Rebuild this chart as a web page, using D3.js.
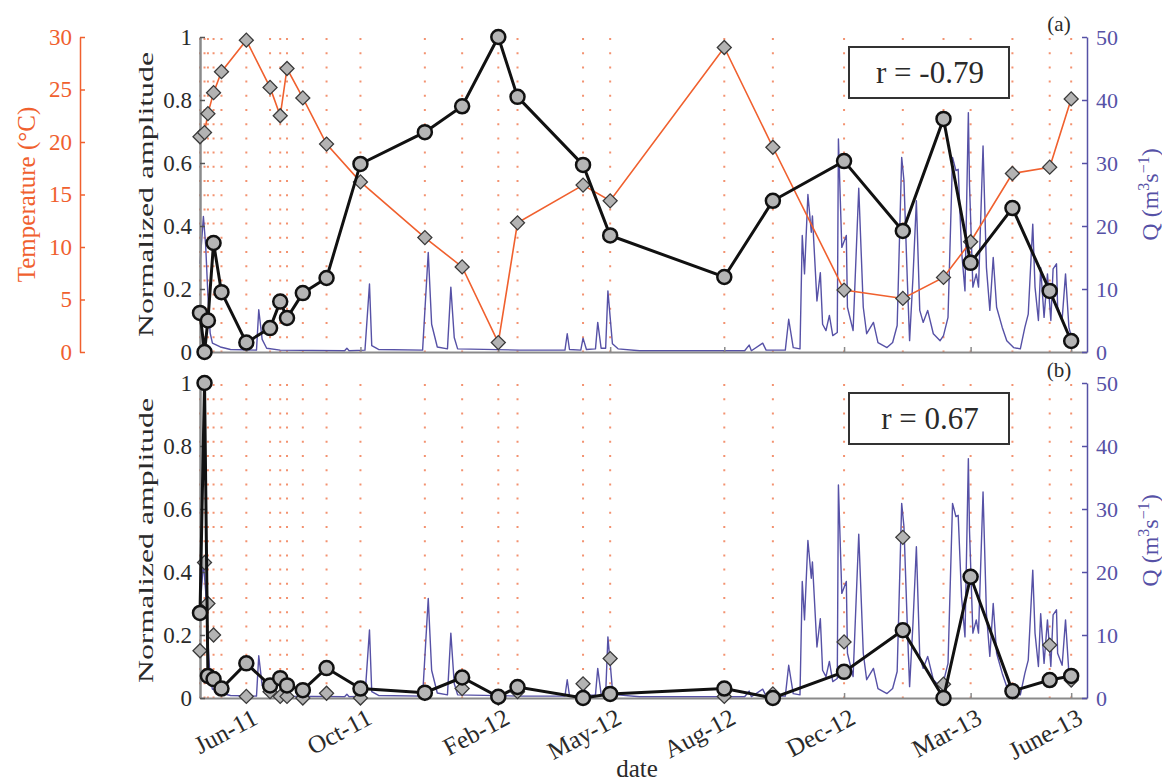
<!DOCTYPE html>
<html>
<head>
<meta charset="utf-8">
<script src="https://cdn.jsdelivr.net/npm/d3@7"></script>
<style>
  body { margin: 0; background: #fff; }
  text { font-family: "Liberation Serif", "Times New Roman", serif; }
</style>
</head>
<body>
<div id="chart"></div>
<script>
// Sampling campaigns (shared by both panels)
var sampleDates = ["2011-05-15", "2011-05-19", "2011-05-22", "2011-05-27", "2011-06-03",
  "2011-06-25", "2011-07-16", "2011-07-25", "2011-07-31", "2011-08-14", "2011-09-04",
  "2011-10-04", "2011-11-30", "2012-01-02", "2012-02-03", "2012-02-20", "2012-04-18",
  "2012-05-12", "2012-08-21", "2012-10-03", "2012-12-05", "2013-01-26", "2013-03-03",
  "2013-03-27", "2013-05-03", "2013-06-05", "2013-06-24"];

// panel (a): water temperature and normalized amplitude
var tempC = [20.5, 20.9, 22.7, 24.7, 26.7, 29.7, 25.2, 22.5, 27.0, 24.2, 19.8, 16.2, 10.9,
  8.1, 0.9, 12.3, 15.9, 14.4, 29.0, 19.5, 5.9, 5.1, 7.1, 10.5, 17.0, 17.6, 24.1];
var ampA = [0.124, 0.0, 0.10, 0.346, 0.19, 0.03, 0.076, 0.16, 0.108, 0.187, 0.235, 0.597,
  0.698, 0.78, 1.0, 0.81, 0.594, 0.37, 0.238, 0.48, 0.606, 0.384, 0.74, 0.283, 0.457, 0.194, 0.035];

// panel (b): normalized amplitude (circles) and second index (diamonds)
var ampB = [0.27, 1.0, 0.07, 0.06, 0.03, 0.11, 0.04, 0.063, 0.04, 0.025, 0.095, 0.03, 0.017,
  0.065, 0.004, 0.035, 0.0, 0.013, 0.03, 0.0, 0.083, 0.215, 0.0, 0.385, 0.022, 0.057, 0.07];
var diamondB = [0.15, 0.43, 0.30, 0.2, 0.03, 0.005, 0.02, 0.005, 0.005, 0.0, 0.015, 0.0, 0.015,
  0.03, 0.0, 0.02, 0.045, 0.125, 0.005, 0.013, 0.178, 0.51, 0.044, 0.385, 0.02, 0.168, 0.057];

// discharge record, days counted from qStart
var qStart = "2011-05-15";
var qDay = [0, 3, 5, 7, 9, 11, 18, 27, 50, 52, 55, 59, 71, 128, 130, 132, 146, 150, 152, 158,
  197, 202, 205, 210, 219, 222, 225, 228, 283, 323, 325, 327, 337, 339, 342, 350, 352, 355,
  359, 361, 365, 370, 389, 482, 486, 488, 498, 501, 518, 521, 525, 531, 533, 535, 538, 541,
  542, 546, 549, 551, 554, 557, 560, 564, 565, 568, 572, 573, 578, 583, 587, 590, 596, 600,
  608, 613, 617, 621, 623, 626, 628, 631, 634, 637, 640, 644, 649, 655, 658, 662, 666, 669,
  671, 674, 677, 680, 681, 684, 687, 689, 693, 696, 699, 702, 705, 710, 714, 720, 726, 730,
  733, 737, 739, 742, 744, 747, 750, 753, 755, 758, 759, 763, 766, 769, 772];
var qValue = [14, 21.5, 17, 9, 3, 1.4, 0.8, 0.4, 0.3, 6.7, 2, 0.6, 0.3, 0.2, 0.6, 0.2, 0.3, 10.8,
  1.0, 0.4, 0.3, 15.8, 4.4, 0.8, 0.5, 10.3, 2.3, 0.5, 0.3, 0.3, 2.9, 0.4, 0.3, 2.2, 0.4, 0.5,
  4.7, 0.6, 0.6, 9.7, 1.3, 0.5, 0.2, 0.2, 1.1, 0.2, 1.4, 0.3, 0.3, 5.2, 0.7, 0.5, 18.5, 12.4,
  25, 19, 21.6, 8.1, 12.6, 4.4, 3.4, 5.8, 2.6, 3.1, 33.8, 16.6, 18.5, 7.1, 3.4, 26, 7.1, 2.9,
  4.7, 1.5, 0.7, 1.5, 4.2, 30.9, 27.2, 11.3, 1.8, 11.9, 24, 6.6, 4.7, 6.6, 2.9, 1.8, 2.6, 5.5,
  30.9, 28.8, 29, 16, 9.7, 38, 26.7, 10.3, 12.4, 10.3, 32.7, 13.4, 6.6, 15, 7.1, 3.9, 1.8, 0.7,
  0.5, 3.9, 6, 20.3, 10.3, 5, 13.4, 5.5, 12.4, 5, 13.2, 14, 7.1, 5.2, 12.4, 3.9, 1.8];

var tickDates = ["2011-06-25", "2011-10-04", "2012-02-03", "2012-05-12", "2012-08-21",
  "2012-12-05", "2013-03-27", "2013-06-24"];
var tickLabels = ["Jun-11", "Oct-11", "Feb-12", "May-12", "Aug-12", "Dec-12", "Mar-13", "June-13"];
var rLabels = ["r = -0.79", "r = 0.67"];
var panelTags = ["(a)", "(b)"];

var svgWidth = 1162;
var svgHeight = 782;

var orange = "#f0602e";
var dotColor = "#f39270";
var blue = "#5651a6";
var axisGray = "#8a8a8a";
var textDark = "#2a2a2a";
var serif = "Liberation Serif";

var parseDate = d3.timeParse("%Y-%m-%d");
var dates = sampleDates.map(parseDate);
var q0 = parseDate(qStart);
var qData = qDay.map(function(d, i) { return { date: d3.timeDay.offset(q0, d), q: qValue[i] }; });

var svg = d3.select("#chart")
  .append("svg")
  .attr("width", svgWidth)
  .attr("height", svgHeight);

var xScale = d3.scaleTime()
  .domain([parseDate("2011-05-15"), parseDate("2013-07-08")])
  .range([200, 1087]);

var panels = [
  { top: 37, bottom: 352, amp: ampA, diamonds: tempC },
  { top: 383, bottom: 698, amp: ampB, diamonds: diamondB }
];

var diamond = d3.symbol().type(d3.symbolSquare).size(98);

panels.forEach(function(p, i) {
  var g = svg.append("g");
  var yAmp = d3.scaleLinear().domain([0, 1]).range([p.bottom, p.top]);
  var yQ = d3.scaleLinear().domain([0, 50]).range([p.bottom, p.top]);
  var yT = d3.scaleLinear().domain([0, 30]).range([p.bottom, p.top]);

  // dotted lines at each sampling date
  g.selectAll(".vgrid")
    .data(dates)
    .enter()
    .append("line")
    .attr("x1", d => xScale(d))
    .attr("x2", d => xScale(d))
    .attr("y1", p.top + 1)
    .attr("y2", p.bottom)
    .attr("stroke", dotColor)
    .attr("stroke-width", 2)
    .attr("stroke-dasharray", "2,12.2");

  // discharge
  var qLine = d3.line()
    .x(d => xScale(d.date))
    .y(d => yQ(d.q));
  g.append("path")
    .datum(qData)
    .attr("d", qLine)
    .attr("fill", "none")
    .attr("stroke", blue)
    .attr("stroke-width", 1.4)
    .attr("stroke-linejoin", "round");

  // axes
  var xAxis = d3.axisBottom(xScale)
    .tickValues(tickDates.map(parseDate))
    .tickFormat("")
    .tickSizeInner(-5)
    .tickSizeOuter(0);
  var xg = g.append("g")
    .attr("transform", `translate(0, ${p.bottom})`)
    .call(xAxis);
  xg.select(".domain").attr("stroke", axisGray).attr("stroke-width", 2);
  xg.selectAll(".tick line").attr("stroke", axisGray).attr("stroke-width", 1.5);

  var leftAxis = d3.axisLeft(yAmp)
    .tickValues([0, 0.2, 0.4, 0.6, 0.8, 1])
    .tickFormat(d => (d === 0 || d === 1) ? d : d3.format(".1f")(d))
    .tickSizeInner(-5)
    .tickSizeOuter(0)
    .tickPadding(8);
  var lg = g.append("g")
    .attr("transform", "translate(200, 0)")
    .call(leftAxis);
  lg.select(".domain").attr("stroke", axisGray).attr("stroke-width", 2.5);
  lg.selectAll(".tick line").attr("stroke", "#555").attr("stroke-width", 1.5);
  lg.selectAll(".tick text").attr("fill", textDark).style("font-size", "23px")
    .style("font-family", serif);

  var rightAxis = d3.axisRight(yQ)
    .tickValues([0, 10, 20, 30, 40, 50])
    .tickSizeInner(-5)
    .tickSizeOuter(0)
    .tickPadding(9);
  var rg = g.append("g")
    .attr("transform", "translate(1087, 0)")
    .call(rightAxis);
  rg.select(".domain").attr("stroke", blue).attr("stroke-width", 1.5);
  rg.selectAll(".tick line").attr("stroke", blue).attr("stroke-width", 1.5);
  rg.selectAll(".tick text").attr("fill", blue).style("font-size", "22px")
    .style("font-family", serif);

  g.append("text")
    .attr("transform", `translate(153, ${(p.top + p.bottom) / 2}) rotate(-90)`)
    .attr("text-anchor", "middle")
    .attr("fill", textDark)
    .attr("textLength", 285)
    .attr("lengthAdjust", "spacingAndGlyphs")
    .style("font-size", "22px")
    .text("Normalized amplitude");

  var qLabel = g.append("text")
    .attr("transform", `translate(1158, ${(p.top + p.bottom) / 2}) rotate(-90)`)
    .attr("text-anchor", "middle")
    .attr("fill", blue)
    .style("font-size", "24px");
  qLabel.append("tspan").text("Q (m");
  qLabel.append("tspan").attr("dy", -9).style("font-size", "16px").text("3");
  qLabel.append("tspan").attr("dy", 9).text("s");
  qLabel.append("tspan").attr("dy", -9).style("font-size", "16px").text("\u22121");
  qLabel.append("tspan").attr("dy", 9).text(")");

  if (i === 0) {
    // temperature axis, far left
    var tAxis = d3.axisLeft(yT)
      .tickValues([0, 5, 10, 15, 20, 25, 30])
      .tickSizeInner(-5)
      .tickSizeOuter(0)
      .tickPadding(8);
    var tg = g.append("g")
      .attr("transform", "translate(80, 0)")
      .call(tAxis);
    tg.select(".domain").attr("stroke", orange).attr("stroke-width", 1.5);
    tg.selectAll(".tick line").attr("stroke", orange).attr("stroke-width", 1.5);
    tg.selectAll(".tick text").attr("fill", orange).style("font-size", "23px")
      .style("font-family", serif);

    g.append("text")
      .attr("transform", `translate(35, ${(p.top + p.bottom) / 2}) rotate(-90)`)
      .attr("text-anchor", "middle")
      .attr("fill", orange)
      .style("font-size", "25px")
      .text("Temperature (\u00B0C)");

    var tLine = d3.line()
      .x((d, j) => xScale(dates[j]))
      .y(d => yT(d));
    g.append("path")
      .datum(tempC)
      .attr("d", tLine)
      .attr("fill", "none")
      .attr("stroke", orange)
      .attr("stroke-width", 1.6);
  }

  // diamonds
  var yD = (i === 0) ? yT : yAmp;
  g.selectAll(".diam")
    .data(p.diamonds)
    .enter()
    .append("path")
    .attr("d", diamond)
    .attr("transform", (d, j) => `translate(${xScale(dates[j])}, ${yD(d)}) rotate(45)`)
    .attr("fill", "#b3b3b3")
    .attr("stroke", "#3a3a3a")
    .attr("stroke-width", 1.3);

  // normalized amplitude
  var aLine = d3.line()
    .x((d, j) => xScale(dates[j]))
    .y(d => yAmp(d));
  g.append("path")
    .datum(p.amp)
    .attr("d", aLine)
    .attr("fill", "none")
    .attr("stroke", "#111")
    .attr("stroke-width", 3);

  g.selectAll(".amp")
    .data(p.amp)
    .enter()
    .append("circle")
    .attr("cx", (d, j) => xScale(dates[j]))
    .attr("cy", d => yAmp(d))
    .attr("r", 7)
    .attr("fill", "#b5b5b5")
    .attr("stroke", "#111")
    .attr("stroke-width", 2.5);

  // r box
  g.append("rect")
    .attr("x", 849)
    .attr("y", p.top + 10)
    .attr("width", 160)
    .attr("height", 51)
    .attr("fill", "#fff")
    .attr("stroke", "#333")
    .attr("stroke-width", 2);
  g.append("text")
    .attr("x", 930)
    .attr("y", p.top + 46)
    .attr("text-anchor", "middle")
    .attr("fill", textDark)
    .style("font-size", "31px")
    .text(rLabels[i]);

  g.append("text")
    .attr("x", 1059)
    .attr("y", p.top - 6)
    .attr("text-anchor", "middle")
    .attr("fill", textDark)
    .style("font-size", "21px")
    .text(panelTags[i]);

  if (i === 1) {
    g.selectAll(".xlab")
      .data(tickDates)
      .enter()
      .append("text")
      .attr("transform", d => `translate(${xScale(parseDate(d)) + 13}, ${p.bottom + 25}) rotate(-28)`)
      .attr("text-anchor", "end")
      .attr("fill", textDark)
      .style("font-size", "25px")
      .text((d, j) => tickLabels[j]);

    g.append("text")
      .attr("x", 637)
      .attr("y", 777)
      .attr("text-anchor", "middle")
      .attr("fill", textDark)
      .style("font-size", "25px")
      .text("date");
  }
});
</script>
</body>
</html>
